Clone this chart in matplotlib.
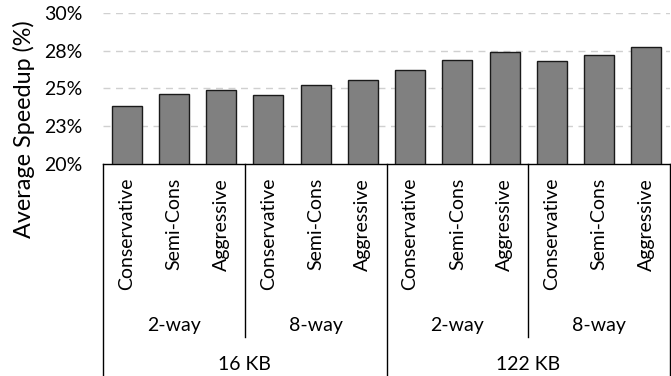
import matplotlib
matplotlib.use("Agg")
import matplotlib.pyplot as plt
from matplotlib.transforms import blended_transform_factory
import math

plt.rcParams['font.family'] = ['Lato', 'DejaVu Sans']

# speedup per policy, grouped by associativity and cache size
policies = ["Conservative", "Semi-Cons", "Aggressive"]
ways = ["2-way", "8-way"]
sizes = ["16 KB", "122 KB"]
speedup = [23.84, 24.66, 24.92,
           24.57, 25.23, 25.58,
           26.20, 26.86, 27.42,
           26.80, 27.22, 27.77]
yticks = [20, 22.5, 25, 27.5, 30]

FS = 14

fig = plt.figure(figsize=(6.71, 3.76), dpi=100)
ax = fig.add_axes([103 / 671, 1 - 164 / 376, 567 / 671, 151 / 376])

xs = list(range(len(speedup)))
ax.bar(xs, [v - 20 for v in speedup], bottom=20, width=0.63,
       color="#808080", edgecolor="#1a1a1a", linewidth=1.0, zorder=3)

ax.set_xlim(-0.5, len(speedup) - 0.5)
ax.set_ylim(20, 30)
ax.set_yticks(yticks)
# Excel-style rounding: 22.5 -> 23, 27.5 -> 28
ax.set_yticklabels([f"{math.floor(t + 0.5)}%" for t in yticks], fontsize=FS)
ax.tick_params(axis="y", length=0, pad=15)
ax.set_xticks([])
for t in yticks[1:]:
    ax.axhline(t, color="#d0d0d0", linestyle=(0, (5, 4)), linewidth=1.0, zorder=1)
for s in ["left", "right", "top"]:
    ax.spines[s].set_visible(False)
ax.spines["bottom"].set_color("black")
ax.spines["bottom"].set_linewidth(1.0)
ax.set_ylabel("Average Speedup (%)", fontsize=16.8)
ax.yaxis.set_label_coords(-0.12, 0.23)

# category table under the bars
tr = blended_transform_factory(ax.transData, ax.transAxes)
px = 1 / 151.0
way_bottom = -(337 - 164) * px
table_bottom = -(376 - 164) * px - 0.05
n = len(policies)
half = len(speedup) // 2
for x in [-0.5, len(speedup) - 0.5, half - 0.5]:
    ax.plot([x, x], [0, table_bottom], transform=tr, color="black", lw=1.0, clip_on=False)
for k in range(1, len(speedup) // n):
    if k * n == half:
        continue
    x = k * n - 0.5
    ax.plot([x, x], [0, way_bottom], transform=tr, color="black", lw=1.0, clip_on=False)

for i, x in enumerate(xs):
    ax.text(x, -(178 - 164) * px, policies[i % n], transform=tr, rotation=90,
            ha="center", va="top", fontsize=FS)
for k in range(len(speedup) // n):
    ax.text(k * n + (n - 1) / 2, -(325 - 164) * px, ways[k % len(ways)], transform=tr,
            ha="center", va="center", fontsize=FS)
for k, s in enumerate(sizes):
    ax.text(k * half + (half - 1) / 2, -(365 - 164) * px, s, transform=tr,
            ha="center", va="center", fontsize=FS)

fig.savefig("out.png", dpi=100)
